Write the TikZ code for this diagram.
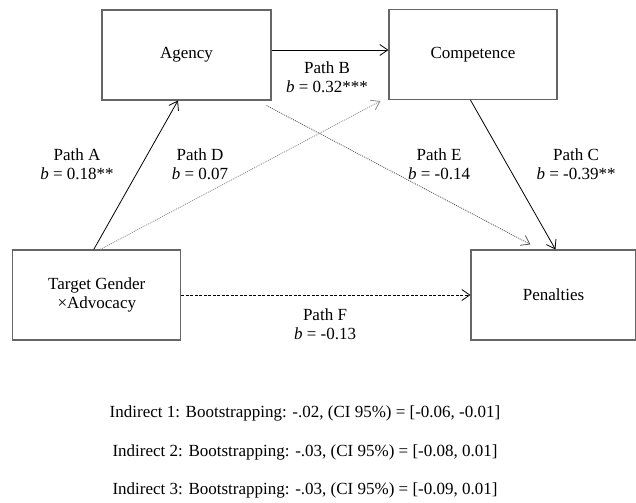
\documentclass[tikz,border=0pt]{standalone}
\usepackage{fontspec}
\setmainfont{Liberation Serif}
\usetikzlibrary{arrows.meta}
\begin{document}
\begin{tikzpicture}[x=1bp,y=-1bp,
  every node/.style={font=\fontsize{17bp}{19.5bp}\selectfont},
  box/.style={draw=black!60, line width=1.1bp, minimum height=90bp, inner sep=0pt, align=center},
  lbl/.style={align=center, inner sep=0pt},
  arr/.style={line width=0.8bp, -{Straight Barb[length=8bp,width=11bp]}},
  dotline/.style={arr, dash pattern=on 1bp off 1bp},
]
\useasboundingbox (0,0) rectangle (636,503);
% boxes
\node[box, minimum width=169bp] (ag) at (186.5,55) {Agency};
\node[box, minimum width=168bp] (co) at (473,54.5) {Competence};
\node[box, minimum width=168bp] (tg) at (96.8,295) {Target Gender\\×Advocacy};
\node[box, minimum width=165bp] (pe) at (553.5,295) {Penalties};
% connectors
\draw[arr, black] ([yshift=5bp]ag.east) -- ([yshift=4.5bp]co.west);
\draw[arr, black] ([xshift=81.5bp]tg.north west) -- ([xshift=76.5bp]ag.south west);
\draw[dotline, black!45] ([xshift=88bp]tg.north west) -- ([xshift=-8bp,yshift=-1bp]co.south west);
\draw[dotline, black!65] ([xshift=-5bp,yshift=-5bp]ag.south east) -- ([xshift=60bp,yshift=5bp]pe.north west);
\draw[arr, black] ([xshift=82bp]co.south west) -- ([xshift=85bp]pe.north west);
\draw[arr, black, dash pattern=on 3bp off 1.5bp] (tg.east) -- (pe.west);
% path labels
\node[lbl] (lb) at (327,77) {Path B\\\textit{b} = 0.32***};
\node[lbl] (la) at (77,164) {Path A\\\textit{b} = 0.18**};
\node[lbl] (ld) at (200,164) {Path D\\\textit{b} = 0.07};
\node[lbl] (le) at (439,164) {Path E\\\textit{b} = -0.14};
\node[lbl] (lc) at (576,164) {Path C\\\textit{b} = -0.39**};
\node[lbl] (lf) at (325,324) {Path F\\\textit{b} = -0.13};
% indirect effects
\node[lbl] (i1) at (305,413) {Indirect 1: Bootstrapping: -.02, (CI 95\%) = [-0.06, -0.01]};
\node[lbl] (i2) at (305,452) {Indirect 2: Bootstrapping: -.03, (CI 95\%) = [-0.08, 0.01]};
\node[lbl] (i3) at (305,490) {Indirect 3: Bootstrapping: -.03, (CI 95\%) = [-0.09, 0.01]};
\end{tikzpicture}
\end{document}
